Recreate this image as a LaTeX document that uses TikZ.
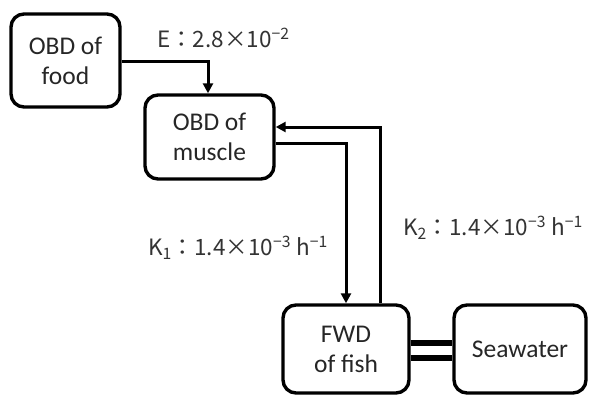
\documentclass[tikz,border=0pt]{standalone}
\usepackage{fontspec}
\setmainfont{Carlito}
\newfontfamily\jpfont{Noto Sans CJK JP}
\usetikzlibrary{arrows.meta}
\begin{document}
\begin{tikzpicture}[x=1pt,y=-1pt,
  box/.style={draw=black, line width=3.4pt, rounded corners=13pt, inner sep=0pt,
    align=center, font=\fontsize{25.5}{30}\selectfont, text=black!85},
  conn/.style={line width=3pt, -{Triangle[length=10pt,width=10pt]}},
  lbl/.style={font=\jpfont\fontsize{22.5}{26}\selectfont, inner sep=0pt, text=black!80}]
\useasboundingbox (0,0) rectangle (589,397);
\node[box, minimum width=109pt, minimum height=93pt] (food) at (65.5,60.5) {OBD of\\food};
\node[box, minimum width=129pt, minimum height=84pt] (muscle) at (209.5,137) {OBD of\\muscle};
\node[box, minimum width=126pt, minimum height=88pt] (fish) at (346,349) {FWD\\of fish};
\node[box, minimum width=132pt, minimum height=88pt] (sea) at (520,349) {Seawater};
\coordinate (c1) at (208,61);
\coordinate (c2) at (346,143);
\coordinate (c3) at (380,127);
\draw[conn] (food.east |- c1) -- (c1) -- (c1 |- muscle.north);
\draw[conn] (muscle.east |- c2) -- (c2) -- (fish.north);
\draw[conn] (c3 |- fish.north) -- (c3) -- (muscle.east |- c3);
\draw[line width=6.5pt] (fish.east |- 0,343) -- (sea.west |- 0,343);
\draw[line width=6.5pt] (fish.east |- 0,358) -- (sea.west |- 0,358);
\node[lbl, anchor=base west] (e) at (157,47) {E：2.8×10\textsuperscript{−2}};
\node[lbl, anchor=base west] (k1) at (148,255) {K\textsubscript{1}：1.4×10\textsuperscript{−3} h\textsuperscript{−1}};
\node[lbl, anchor=base west] (k2) at (403,235) {K\textsubscript{2}：1.4×10\textsuperscript{−3} h\textsuperscript{−1}};
\end{tikzpicture}
\end{document}
